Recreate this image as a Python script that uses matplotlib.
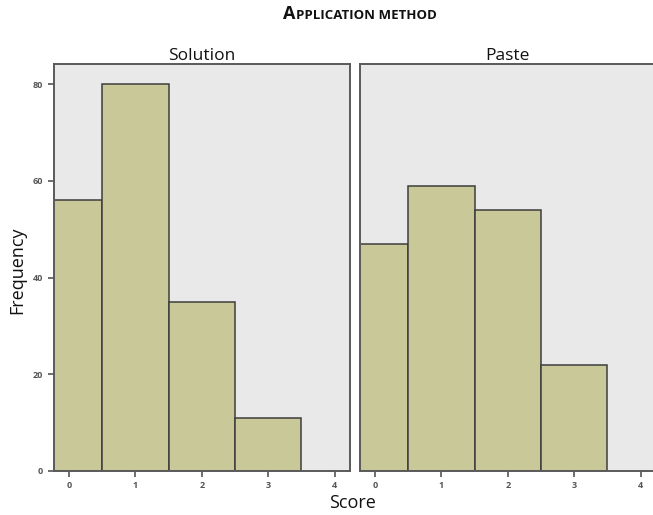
import matplotlib
matplotlib.use("Agg")
import matplotlib.pyplot as plt

# data
scores = [0, 1, 2, 3]
solution_freq = [56, 80, 35, 11]
paste_freq = [47, 59, 54, 22]
panels = ["Solution", "Paste"]
x_ticks = [0, 1, 2, 3, 4]
y_ticks = [0, 20, 40, 60, 80]

bar_color = "#c9c898"
edge_color = "#3d3d3d"
bg_color = "#e9e9e9"

plt.rcParams["font.family"] = ["Open Sans", "DejaVu Sans"]

fig = plt.figure(figsize=(6.53, 5.15), dpi=100)
W, H = 653, 515

def px_axes(x0, y0, x1, y1):
    # pixel box (top-left origin) -> figure fraction
    return fig.add_axes([x0 / W, 1 - y1 / H, (x1 - x0) / W, (y1 - y0) / H])

ax1 = px_axes(53.5, 63.5, 350, 471)
ax2 = px_axes(359.5, 63.5, 656, 471)

for ax, name, freq in zip([ax1, ax2], panels, [solution_freq, paste_freq]):
    ax.set_facecolor(bg_color)
    ax.bar(scores, freq, width=1.0, color=bar_color, edgecolor=edge_color,
           linewidth=1.1, zorder=2)
    ax.set_xlim(-0.23, 4.23)
    ax.set_ylim(0, 84.3)
    ax.set_xticks(x_ticks)
    ax.set_yticks(y_ticks)
    for s in ax.spines.values():
        s.set_color("#5a5a5a")
        s.set_linewidth(1.4)
    ax.tick_params(axis="both", direction="out", length=4, width=1.2,
                   colors="#555555", labelsize=6.5, labelcolor="#555555")
    for lab in ax.get_xticklabels() + ax.get_yticklabels():
        lab.set_fontweight("bold")
    ax.set_title(name, fontsize=12.5, pad=2, color="#111111")

ax2.set_yticks([])

fig.text(17 / W, 1 - 270 / H, "Frequency", rotation=90, ha="center",
         va="center", fontsize=13, color="#111111")
fig.text(352 / W, 1 - 503 / H, "Score", ha="center", va="center",
         fontsize=13, color="#111111")

# small-caps style title, built piece by piece
pieces = [("A", 13), ("PPLICATION METHOD", 9.5)]
fig.canvas.draw()
renderer = fig.canvas.get_renderer()
texts = []
for s, size in pieces:
    t = fig.text(0, 1 - 19 / H, s, fontsize=size, fontweight="bold",
                 ha="left", va="baseline", color="#111111")
    texts.append(t)
widths = [t.get_window_extent(renderer).width for t in texts]
total = sum(widths)
x = 360 - total / 2
for t, w in zip(texts, widths):
    t.set_position((x / W, 1 - 19 / H))
    x += w

fig.savefig("out.png", dpi=100)
